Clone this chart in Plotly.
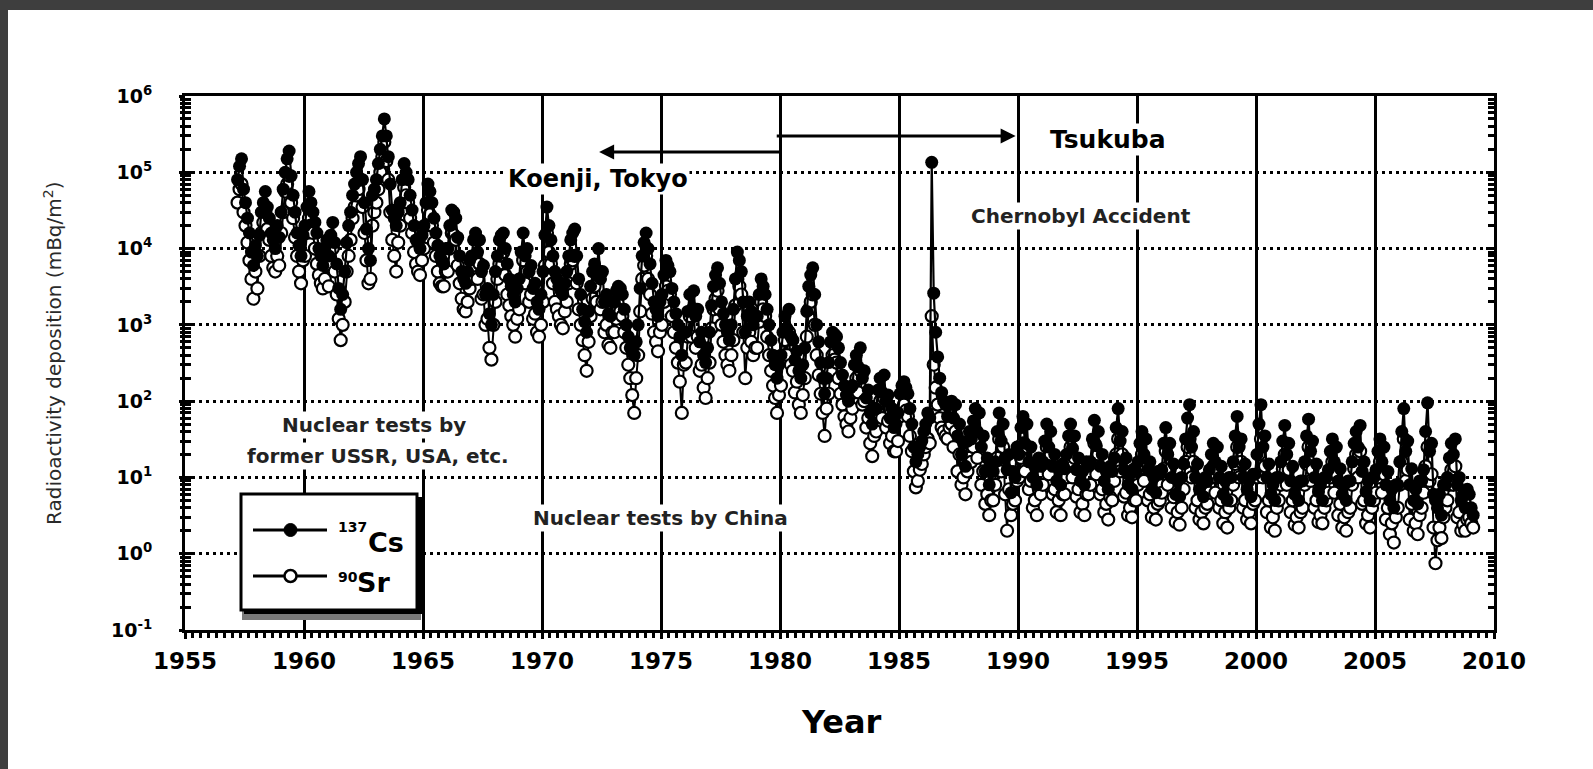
import plotly.graph_objects as go

# ---------------- data (mBq/m^2), monthly deposition, Jan..Dec ----------------
years = list(range(1957, 2010))
months = list(range(1, 13))

cs137 = [
    [8e4, 1.2e5, 1.5e5, 6e4, 4e4, 2.5e4, 1.6e4, 9e3, 6e3, 1.1e4],                # 1957 (Mar-Dec)
    [8e3, 1.5e4, 3e4, 4e4, 5.6e4, 3.5e4, 2.5e4, 1.6e4, 1.3e4, 1e4, 2e4, 1.4e4],   # 1958
    [3e4, 6e4, 1e5, 1.5e5, 1.9e5, 9e4, 5e4, 3e4, 1.6e4, 1.1e4, 8e3, 1.5e4],      # 1959
    [2e4, 3.5e4, 5.6e4, 4e4, 3e4, 2.2e4, 1.6e4, 1e4, 8e3, 6e3, 1e4, 1.3e4],      # 1960
    [8e3, 1.5e4, 2.2e4, 1.2e4, 6.3e3, 3e3, 1.6e3, 2.5e3, 5e3, 1.2e4, 2e4, 3e4],  # 1961
    [5e4, 7e4, 1e5, 1.3e5, 1.6e5, 8e4, 4e4, 1.8e4, 1e4, 7e3, 5e4, 6e4],          # 1962
    [8e4, 1.3e5, 2e5, 3e5, 5e5, 3e5, 1.6e5, 7e4, 3.2e4, 2.5e4, 2e4, 3e4],        # 1963
    [4e4, 8e4, 1.3e5, 1e5, 8e4, 5e4, 3.2e4, 2e4, 1.3e4, 1.2e4, 1e4, 1.5e4],      # 1964
    [2e4, 4e4, 7e4, 5.6e4, 4e4, 2.5e4, 1.6e4, 1.1e4, 8e3, 7e3, 6.3e3, 1e4],      # 1965
    [1e4, 2e4, 3.2e4, 3e4, 2.5e4, 1.4e4, 8e3, 5e3, 4e3, 3.5e3, 5e3, 7e3],        # 1966
    [8e3, 1.3e4, 1.6e4, 9e3, 1.3e4, 5e3, 6e3, 2.5e3, 3e3, 1.4e3, 1e3, 2.5e3],    # 1967
    [5e3, 8e3, 1.3e4, 1.5e4, 1.6e4, 1e4, 6.3e3, 4e3, 3.2e3, 2.5e3, 2e3, 3e3],    # 1968
    [4e3, 9e3, 1.6e4, 8e3, 1e4, 5e3, 6e3, 3e3, 3.5e3, 2e3, 1.6e3, 2.5e3],        # 1969
    [5e3, 1.5e4, 3.5e4, 2e4, 1.3e4, 8e3, 5e3, 4e3, 3.2e3, 2.8e3, 2.5e3, 3.5e3],  # 1970
    [5e3, 8e3, 1.3e4, 1.6e4, 1.8e4, 8e3, 4e3, 2.5e3, 1.6e3, 1.1e3, 800, 1.5e3],  # 1971
    [3.2e3, 5e3, 6.3e3, 4.5e3, 1e4, 4e3, 5e3, 2e3, 2.5e3, 1.4e3, 1.3e3, 2e3],    # 1972
    [2e3, 2.8e3, 3.2e3, 3e3, 2.5e3, 1.6e3, 1e3, 700, 500, 450, 400, 600],        # 1973
    [1e3, 3e3, 8e3, 1.2e4, 1.6e4, 1e4, 6.3e3, 3.5e3, 2e3, 1.6e3, 1.3e3, 2e3],    # 1974
    [2.5e3, 4.5e3, 7e3, 6e3, 5e3, 3e3, 2e3, 1.4e3, 1e3, 700, 400, 800],          # 1975
    [800, 1.5e3, 2.5e3, 1.6e3, 2.8e3, 1.3e3, 1.6e3, 600, 800, 400, 320, 500],    # 1976
    [800, 1.8e3, 3.2e3, 4.5e3, 5.6e3, 3.5e3, 2e3, 1.4e3, 1e3, 800, 630, 1e3],    # 1977
    [1.6e3, 4e3, 9e3, 7e3, 5e3, 2e3, 800, 1.3e3, 2e3, 1.5e3, 1e3, 1.3e3],        # 1978
    [1.3e3, 2.5e3, 4e3, 3.2e3, 2.5e3, 1.6e3, 1e3, 630, 400, 300, 200, 300],      # 1979
    [400, 800, 1.3e3, 900, 1.6e3, 700, 630, 350, 450, 250, 200, 300],            # 1980
    [500, 1.5e3, 3.2e3, 4.5e3, 5.6e3, 2.5e3, 1e3, 600, 320, 200, 125, 200],      # 1981
    [320, 600, 800, 750, 700, 500, 320, 220, 160, 120, 100, 150],                # 1982
    [160, 300, 400, 280, 500, 200, 250, 110, 140, 70, 50, 80],                   # 1983
    [80, 140, 200, 130, 220, 100, 120, 60, 80, 45, 50, 70],                      # 1984
    [125, 160, 180, 150, 125, 80, 50, 25, 16, 20, 25, 30],                       # 1985
    [40, 50, 70, 60, 1.35e5, 2.6e3, 800, 380, 200, 130, 100, 90],                # 1986 Chernobyl
    [63, 90, 100, 60, 90, 35, 50, 20, 28, 14, 30, 40],                           # 1987
    [32, 55, 80, 40, 70, 25, 35, 12, 18, 8, 14, 12],                             # 1988
    [16, 40, 70, 30, 50, 18, 12.6, 20, 6.3, 12, 10, 25],                         # 1989
    [20, 45, 63, 28, 50, 16, 25, 10, 14, 8, 18, 14],                             # 1990
    [16, 30, 50, 25, 40, 14, 20, 9, 14, 8, 15, 13],                              # 1991
    [20, 35, 50, 24, 35, 12.6, 18, 9, 12, 8, 16, 14],                            # 1992
    [16, 32, 56, 26, 40, 14, 20, 9, 12, 7, 14, 12],                              # 1993
    [18, 45, 80, 30, 40, 12.6, 18, 8, 11, 7, 13, 12],                            # 1994
    [16, 28, 40, 20, 32, 12.6, 16, 7, 10, 6.3, 12, 11],                          # 1995
    [12.6, 28, 45, 20, 28, 10, 15, 6, 9, 5.6, 10, 15],                           # 1996
    [32, 60, 90, 25, 40, 10, 15, 7, 9, 5.6, 10, 9],                              # 1997
    [12.6, 20, 28, 16, 25, 10, 14, 6, 9, 5, 10, 10],                             # 1998
    [16, 35, 63, 25, 32, 10, 15, 7, 9, 5.6, 11, 11],                             # 1999
    [20, 50, 90, 25, 35, 10, 15, 6, 8, 5, 10, 10],                               # 2000
    [16, 30, 48, 20, 28, 9, 14, 6, 8, 5, 9, 9],                                  # 2001
    [16, 35, 58, 22, 30, 10, 15, 6.5, 8, 5, 10, 10],                             # 2002
    [12.6, 22, 32, 16, 25, 9, 13, 6, 8, 5, 9, 9],                                # 2003
    [16, 28, 40, 25, 48, 12, 16, 6.5, 9, 5, 10, 10],                             # 2004
    [12.6, 22, 32, 16, 25, 8, 12, 5, 7, 4, 8, 8],                                # 2005
    [16, 40, 80, 22, 30, 8, 13, 5, 7, 4.5, 9, 9],                                # 2006
    [12.6, 40, 95, 22, 28, 6, 5, 4, 6, 3.2, 8, 8],                               # 2007
    [10, 18, 28, 20, 32, 8, 10, 5, 6, 4, 7, 6],                                  # 2008
    [4, 3.2],                                                                    # 2009 (Jan-Feb)
]

sr90 = [
    [4e4, 6e4, 7e4, 3e4, 2e4, 1.2e4, 7e3, 4e3, 2.2e3, 5e3],                      # 1957 (Mar-Dec)
    [3e3, 8e3, 1.6e4, 2.2e4, 3e4, 1.8e4, 1.3e4, 8e3, 5.6e3, 5e3, 8e3, 6e3],      # 1958
    [1.6e4, 3e4, 5.6e4, 7e4, 9e4, 4e4, 2.5e4, 1.4e4, 8e3, 5e3, 3.5e3, 7e3],      # 1959
    [8e3, 1.6e4, 2.5e4, 2e4, 1.6e4, 1e4, 6.3e3, 4.5e3, 3.5e3, 3e3, 4e3, 6e3],    # 1960
    [3.2e3, 6e3, 1e4, 5e3, 2.5e3, 1.2e3, 630, 1e3, 2e3, 5e3, 8e3, 1.3e4],        # 1961
    [2.5e4, 3.5e4, 5e4, 6e4, 8e4, 3.5e4, 1.6e4, 7e3, 3.5e3, 4e3, 2e4, 3e4],      # 1962
    [4e4, 6e4, 1e5, 1.6e5, 2.5e5, 1.4e5, 8e4, 3e4, 1.3e4, 8e3, 5e3, 1.2e4],      # 1963
    [2e4, 4e4, 6.3e4, 5e4, 4e4, 2.5e4, 1.6e4, 9e3, 6.3e3, 5e3, 4.5e3, 7e3],      # 1964
    [1e4, 2e4, 3.2e4, 2.8e4, 2e4, 1.2e4, 8e3, 5e3, 3.5e3, 3.2e3, 3.2e3, 5e3],    # 1965
    [5e3, 1e4, 1.6e4, 1.5e4, 1.3e4, 6e3, 3.5e3, 2.2e3, 1.6e3, 1.5e3, 2e3, 3e3],  # 1966
    [4e3, 6e3, 8e3, 4e3, 6.3e3, 2.2e3, 2.5e3, 1e3, 1.2e3, 500, 350, 1e3],        # 1967
    [2e3, 4e3, 6.3e3, 8e3, 9e3, 4.5e3, 2.5e3, 1.8e3, 1.3e3, 1e3, 700, 1.2e3],    # 1968
    [1.6e3, 4e3, 7e3, 3.5e3, 5e3, 2e3, 2.5e3, 1.2e3, 1.4e3, 800, 700, 1e3],      # 1969
    [2e3, 6e3, 1.6e4, 9e3, 6.3e3, 3.5e3, 2e3, 1.6e3, 1.3e3, 1e3, 900, 1.5e3],    # 1970
    [2e3, 3.5e3, 6.3e3, 7e3, 8e3, 3.5e3, 1.6e3, 1e3, 630, 400, 250, 600],        # 1971
    [1.3e3, 2.2e3, 3.2e3, 2e3, 5e3, 1.6e3, 2e3, 800, 1e3, 550, 500, 800],        # 1972
    [800, 1.2e3, 1.6e3, 1.5e3, 1.3e3, 800, 500, 300, 200, 120, 70, 200],         # 1973
    [400, 1.5e3, 4e3, 6e3, 8e3, 4e3, 2.5e3, 1.4e3, 800, 600, 450, 800],          # 1974
    [1e3, 2e3, 3.2e3, 2.8e3, 2.5e3, 1.3e3, 800, 500, 320, 180, 70, 300],         # 1975
    [320, 700, 1.3e3, 700, 1.6e3, 500, 700, 250, 300, 150, 110, 200],            # 1976
    [320, 900, 1.6e3, 2.2e3, 2.8e3, 1.6e3, 1e3, 600, 400, 300, 250, 400],        # 1977
    [630, 1.8e3, 4e3, 3.2e3, 2.5e3, 800, 200, 500, 800, 600, 400, 500],          # 1978
    [500, 1.1e3, 2e3, 1.6e3, 1.3e3, 700, 400, 250, 160, 110, 70, 120],           # 1979
    [160, 350, 630, 400, 800, 300, 250, 130, 180, 90, 70, 120],                  # 1980
    [200, 700, 1.6e3, 2e3, 2.5e3, 1e3, 400, 220, 125, 70, 35, 80],               # 1981
    [125, 250, 400, 350, 320, 200, 125, 90, 63, 50, 40, 60],                     # 1982
    [80, 130, 200, 130, 250, 90, 100, 45, 60, 28, 19, 35],                       # 1983
    [40, 70, 100, 60, 110, 45, 55, 28, 35, 22, 22, 30],                          # 1984
    [63, 75, 90, 75, 63, 35, 22, 12, 7.4, 9, 12.6, 15],                          # 1985
    [20, 25, 32, 28, 1.3e3, 300, 150, 90, 60, 45, 40, 35],                       # 1986
    [32, 45, 50, 25, 40, 12, 20, 8, 10, 6, 12, 18],                              # 1987
    [16, 25, 35, 18, 32, 8, 12, 4.5, 6, 3.2, 5, 5],                              # 1988
    [8, 18, 32, 12, 25, 6, 2, 7, 3.2, 4.5, 5, 9],                                # 1989
    [10, 18, 28, 12, 25, 7, 9, 4, 5, 3.2, 7, 6],                                 # 1990
    [8, 14, 25, 11, 20, 6, 7, 3.5, 5, 3.2, 6, 6],                                # 1991
    [10, 16, 25, 10, 18, 5.6, 7, 3.5, 4.5, 3.2, 6, 6],                           # 1992
    [8, 15, 28, 11, 20, 6, 7, 3.5, 4.5, 2.8, 5.5, 5],                            # 1993
    [9, 20, 32, 12, 20, 5.6, 6.3, 3.2, 4, 3, 5, 5],                              # 1994
    [8, 13, 20, 9, 16, 5, 6, 3, 4, 2.8, 4.5, 5],                                 # 1995
    [6.3, 13, 22, 8, 12.6, 4, 5.5, 2.6, 3.5, 2.4, 4, 7],                         # 1996
    [16, 25, 32, 10, 16, 4, 5, 2.8, 3.5, 2.5, 4, 4.5],                           # 1997
    [6.3, 10, 14, 6.3, 12.6, 4, 5, 2.5, 3.5, 2.2, 4, 5],                         # 1998
    [8, 15, 25, 10, 16, 4, 5, 2.8, 3.5, 2.5, 4.5, 5],                            # 1999
    [10, 20, 32, 10, 14, 3.5, 5, 2.2, 3, 2, 4, 5],                               # 2000
    [8, 13, 20, 8, 12.6, 3.5, 5, 2.4, 3, 2.2, 3.5, 4],                           # 2001
    [8, 15, 25, 9, 12.6, 4, 5, 2.6, 3.2, 2.5, 4, 5],                             # 2002
    [6.3, 10, 16, 6.3, 11, 3.2, 4.5, 2.2, 3, 2, 3.5, 4],                         # 2003
    [8, 13, 20, 10, 22, 4.5, 5, 2.5, 3.2, 2.2, 4, 5],                            # 2004
    [6.3, 10, 16, 6.3, 11, 2.8, 4, 1.8, 2.5, 1.4, 3, 4],                         # 2005
    [8, 16, 32, 9, 12.6, 2.8, 4.5, 2, 2.5, 1.8, 3.2, 4],                         # 2006
    [6.3, 14, 25, 9, 11, 2.2, 0.75, 1.5, 2.2, 1.6, 3, 4],                        # 2007
    [5, 8, 12.6, 8, 14, 3, 3.5, 2, 2.4, 2, 2.8, 3],                              # 2008
    [2.5, 2.2],                                                                  # 2009
]

y_tick_vals = [0.1, 1, 10, 100, 1e3, 1e4, 1e5, 1e6]
y_tick_text = ["10<sup>-1</sup>", "10<sup>0</sup>", "10<sup>1</sup>", "10<sup>2</sup>",
               "10<sup>3</sup>", "10<sup>4</sup>", "10<sup>5</sup>", "10<sup>6</sup>"]
x_tick_vals = [1955, 1960, 1965, 1970, 1975, 1980, 1985, 1990, 1995, 2000, 2005, 2010]


def sample_times(yr, n):
    ms = months[-n:] if yr == years[0] else months[:n]
    return [yr + (m - 0.5) / 12 for m in ms]


def flatten(series):
    xs, ys = [], []
    for yr, vals in zip(years, series):
        xs += sample_times(yr, len(vals))
        ys += vals
    return xs, ys


cs_x, cs_y = flatten(cs137)
sr_x, sr_y = flatten(sr90)

# ---------------- geometry ----------------
W, H = 1593, 769
L, R, T, B = 185, 1494, 96, 630


def px(x):
    return (x - L) / (R - L)


def py(y):
    return (B - y) / (B - T)


FONT = "DejaVu Sans"

fig = go.Figure()

fig.add_trace(go.Scatter(
    x=sr_x, y=sr_y, mode="lines+markers", name="90Sr",
    line=dict(color="black", width=2),
    marker=dict(symbol="circle", size=12, color="white", line=dict(color="black", width=2.2)),
    showlegend=False, hoverinfo="skip"))
fig.add_trace(go.Scatter(
    x=cs_x, y=cs_y, mode="lines+markers", name="137Cs",
    line=dict(color="black", width=2.2),
    marker=dict(symbol="circle", size=13, color="black", line=dict(width=0)),
    showlegend=False, hoverinfo="skip"))
# invisible trace carrying the outer-tick axis
fig.add_trace(go.Scatter(x=[1955], y=[1], yaxis="y2", mode="markers",
                         marker=dict(opacity=0), showlegend=False, hoverinfo="skip"))

minor_vals = [m * 10 ** e for e in range(-1, 6) for m in range(2, 10)]

fig.update_layout(
    width=W, height=H,
    margin=dict(l=L, r=W - R, t=T, b=H - B, pad=0),
    paper_bgcolor="#3e3e3e",
    plot_bgcolor="white",
    showlegend=False,
    xaxis=dict(
        range=[1955, 2010], tickmode="array", tickvals=x_tick_vals,
        ticks="outside", ticklen=6, tickwidth=3, tickcolor="black",
        showline=True, linewidth=3, linecolor="black", mirror=True,
        showgrid=True, gridcolor="black", gridwidth=3,
        zeroline=False, ticklabelstandoff=2,
        tickfont=dict(family=FONT, size=23, color="black", weight="bold"),
        minor=dict(ticks="outside", ticklen=5, tickwidth=3, tickcolor="black",
                   tick0=1955, dtick=1 / 3, showgrid=False),
    ),
    yaxis=dict(
        type="log", range=[-1, 6], tickmode="array",
        tickvals=y_tick_vals, ticktext=y_tick_text,
        ticks="inside", ticklen=8, tickwidth=3, tickcolor="black",
        showline=True, linewidth=3, linecolor="black", mirror="allticks",
        showgrid=True, gridcolor="black", gridwidth=3, griddash="3px,4px",
        zeroline=False, ticklabelstandoff=26,
        tickfont=dict(family=FONT, size=19, color="black", weight="bold"),
        minor=dict(tickmode="array", tickvals=minor_vals, ticks="inside",
                   ticklen=6, tickwidth=3, tickcolor="black", showgrid=False),
    ),
    yaxis2=dict(
        type="log", range=[-1, 6], overlaying="y", side="left",
        tickmode="array", tickvals=y_tick_vals, showticklabels=False,
        ticks="outside", ticklen=5, tickwidth=3, tickcolor="black",
        showgrid=False, showline=False, zeroline=False,
        minor=dict(tickmode="array", tickvals=minor_vals, ticks="outside",
                   ticklen=4, tickwidth=3, tickcolor="black", showgrid=False),
    ),
)

shapes = [
    # white sheet inside the dark scan frame
    dict(type="rect", xref="paper", yref="paper", layer="below",
         x0=px(8), x1=px(W + 5), y0=py(H + 5), y1=py(10),
         fillcolor="white", line=dict(width=0)),
    # legend shadow + box
    dict(type="rect", xref="paper", yref="paper",
         x0=px(242), x1=px(421), y0=py(620), y1=py(500),
         fillcolor="#7a7a7a", line=dict(width=0)),
    dict(type="rect", xref="paper", yref="paper",
         x0=px(244), x1=px(422), y0=py(614), y1=py(497),
         fillcolor="black", line=dict(width=0)),
    dict(type="rect", xref="paper", yref="paper",
         x0=px(241), x1=px(417), y0=py(610), y1=py(494),
         fillcolor="white", line=dict(color="black", width=3)),
    # legend sample lines
    dict(type="line", xref="paper", yref="paper",
         x0=px(253), x1=px(327), y0=py(530), y1=py(530),
         line=dict(color="black", width=3)),
    dict(type="line", xref="paper", yref="paper",
         x0=px(253), x1=px(327), y0=py(576), y1=py(576),
         line=dict(color="black", width=3)),
    # legend sample markers
    dict(type="circle", xref="paper", yref="paper",
         x0=px(284), x1=px(297), y0=py(536.5), y1=py(523.5),
         fillcolor="black", line=dict(color="black", width=1)),
    dict(type="circle", xref="paper", yref="paper",
         x0=px(284.5), x1=px(296.5), y0=py(582), y1=py(570),
         fillcolor="white", line=dict(color="black", width=2.5)),
]
fig.update_layout(shapes=shapes)


def label(text, x, y, size, color="black", weight="bold", bg=None, xanchor="center", angle=0):
    d = dict(text=text, x=px(x), y=py(y), xref="paper", yref="paper",
             showarrow=False, xanchor=xanchor, yanchor="middle", textangle=angle,
             font=dict(family=FONT, size=size, color=color, weight=weight))
    if bg:
        d.update(bgcolor=bg, borderpad=1)
    return d


ann = [
    label("Year", 841, 722, 32),
    label("Radioactivity deposition (mBq/m<sup>2</sup>)", 53, 353, 20,
          color="#2a2a2a", weight="normal", angle=-90),
    label("Tsukuba", 1108, 139, 25, bg="white"),
    label("Koenji, Tokyo", 598, 179, 24, bg="white"),
    label("Chernobyl Accident", 1081, 216, 20, color="#222", bg="white"),
    label("Nuclear tests by", 374, 425, 20, color="#222", bg="white"),
    label("former USSR, USA, etc.", 378, 456, 20, color="#222", bg="white"),
    label("Nuclear tests by China", 660, 518, 20, color="#222", bg="white"),
    label("137", 336, 527, 14, xanchor="left"),
    label("Cs", 366, 542, 27, xanchor="left"),
    label("90", 336, 577, 14, xanchor="left"),
    label("Sr", 355, 582, 27, xanchor="left"),
    # arrows (tip at x/y, tail at ax/ay; log axis -> log10 units)
    dict(x=1989.9, y=5.476, ax=1979.8, ay=5.476, xref="x", yref="y", axref="x", ayref="y",
         text="", showarrow=True, arrowhead=2, arrowsize=1, arrowwidth=3, arrowcolor="black"),
    dict(x=1972.4, y=5.266, ax=1980.05, ay=5.266, xref="x", yref="y", axref="x", ayref="y",
         text="", showarrow=True, arrowhead=2, arrowsize=1, arrowwidth=3, arrowcolor="black"),
]
fig.update_layout(annotations=ann)

fig.write_html("out.html")
